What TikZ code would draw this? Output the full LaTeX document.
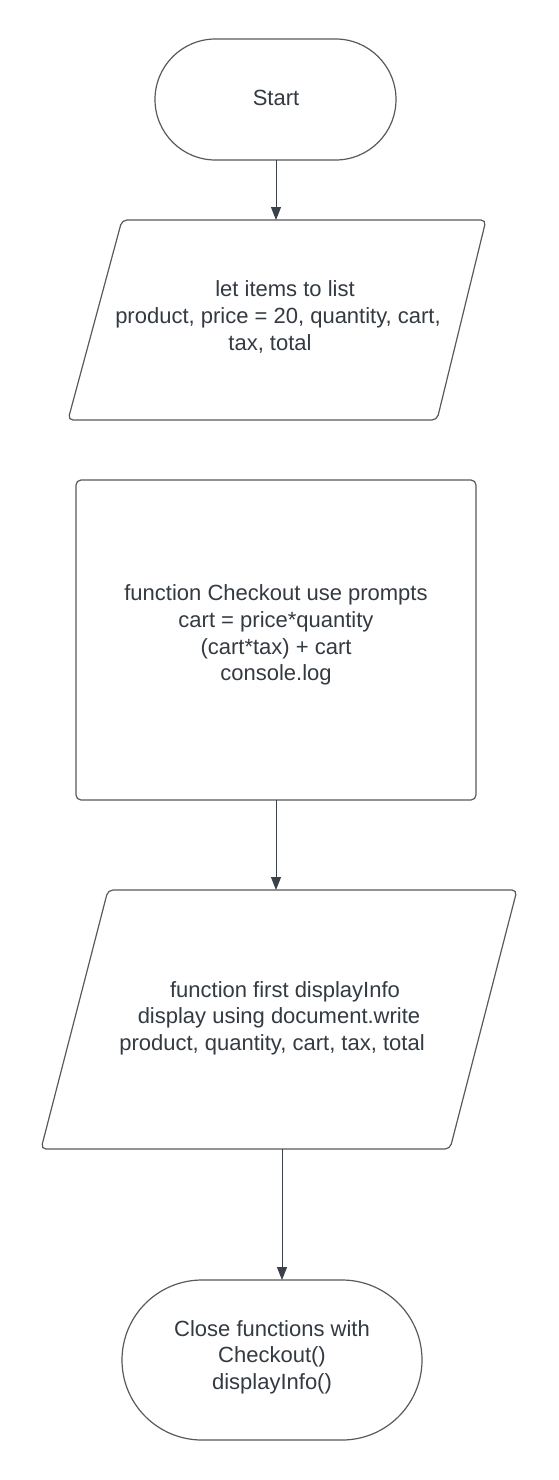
\documentclass[tikz,border=0pt]{standalone}
\usepackage{fontspec}
\setmainfont{Liberation Sans}
\usetikzlibrary{arrows.meta}
\definecolor{txt}{HTML}{333A42}
\definecolor{outl}{HTML}{5A5A5A}
\definecolor{arrc}{HTML}{3A414A}
\tikzset{
  shapeline/.style={draw=outl, line width=1.2pt},
  lbl/.style={text=txt, align=center, inner sep=0pt, font=\fontsize{22}{26.7}\selectfont},
  arr/.style={draw=arrc, line width=1pt, -{Triangle[length=13pt,width=10pt]}}
}
\begin{document}
\begin{tikzpicture}[x=1pt,y=-1pt]
\useasboundingbox[fill=white] (0,0) rectangle (558,1480);
% Start
\draw[shapeline, rounded corners=60.5] (155,39) rectangle (396,160);
\node[lbl] (start) at (276,98) {Start};
\coordinate (startb) at (276,160);
% Parallelogram 1
\draw[shapeline, rounded corners=5] (122,220) -- (486,220) -- (437,420) -- (68,420) -- cycle;
\coordinate (p1t) at (276,220);
\node[lbl] (p1) at (278,317) {\hspace*{14pt}let items to list\\product, price = 20, quantity, cart,\\tax, total\hspace*{16pt}};
% Rectangle
\draw[shapeline, rounded corners=5] (76,480) rectangle (476,800);
\node[lbl] (r) at (276,635) {function Checkout use prompts\\cart = price*quantity\\(cart*tax) + cart\\console.log};
\coordinate (rb) at (276,800);
% Parallelogram 2
\draw[shapeline, rounded corners=5] (108,890) -- (517,890) -- (450,1149) -- (41,1149) -- cycle;
\coordinate (p2t) at (276,890);
\coordinate (p2b) at (282,1149);
\node[lbl] (p2) at (279,1018) {\hspace*{12pt}function first displayInfo\\display using document.write\\product, quantity, cart, tax, total\hspace*{14pt}};
% End
\draw[shapeline, rounded corners=80] (122,1280) rectangle (422,1440);
\node[lbl] (e) at (272,1357) {Close functions with\\Checkout()\\displayInfo()};
\coordinate (et) at (282,1280);
% Connectors
\draw[arr] (startb) -- (p1t);
\draw[arr] (rb) -- (p2t);
\draw[arr] (p2b) -- (et);
\end{tikzpicture}
\end{document}
